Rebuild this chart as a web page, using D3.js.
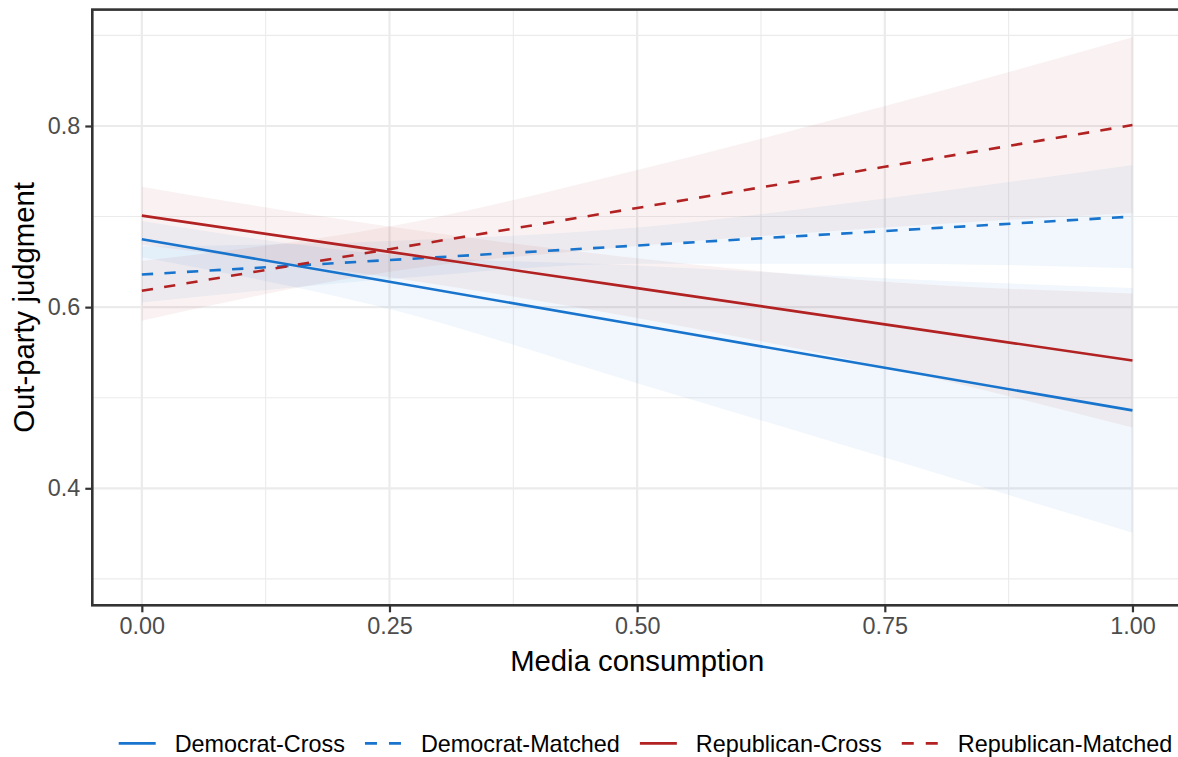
<!DOCTYPE html>
<html>
<head>
<meta charset="utf-8">
<script src="https://cdn.jsdelivr.net/npm/d3@7"></script>
<style>
  html, body { margin: 0; padding: 0; background: #ffffff; }
  svg { display: block; font-family: "Liberation Sans", Arial, Helvetica, sans-serif; }
</style>
</head>
<body>
<svg id="chart" width="1178" height="757"></svg>
<script>
// ---- data ----
const seriesNames = ["Democrat-Cross", "Democrat-Matched", "Republican-Cross", "Republican-Matched"];
const mediaX = [0, 0.25, 0.5, 0.75, 1];

const demCrossFit   = [0.675, 0.628, 0.5805, 0.533, 0.486];
const demCrossLow   = [0.655, 0.598, 0.516, 0.434, 0.351];
const demCrossHigh  = [0.695, 0.658, 0.646, 0.632, 0.621];

const demMatchFit   = [0.636, 0.652, 0.668, 0.684, 0.700];
const demMatchLow   = [0.605, 0.631, 0.648, 0.648, 0.643];
const demMatchHigh  = [0.667, 0.673, 0.688, 0.720, 0.757];

const repCrossFit   = [0.701, 0.661, 0.621, 0.581, 0.541];
const repCrossLow   = [0.669, 0.633, 0.588, 0.534, 0.467];
const repCrossHigh  = [0.733, 0.689, 0.654, 0.628, 0.615];

const repMatchFit   = [0.618, 0.664, 0.7095, 0.755, 0.801];
const repMatchLow   = [0.585, 0.639, 0.6675, 0.688, 0.704];
const repMatchHigh  = [0.651, 0.689, 0.7515, 0.822, 0.898];

const xTickValues = [0, 0.25, 0.5, 0.75, 1];
const xTickLabels = ["0.00", "0.25", "0.50", "0.75", "1.00"];
const xMinorTicks = [0.125, 0.375, 0.625, 0.875];
const yTickValues = [0.4, 0.6, 0.8];
const yTickLabels = ["0.4", "0.6", "0.8"];
const yMinorTicks = [0.3, 0.5, 0.7, 0.9];

const xTitle = "Media consumption";
const yTitle = "Out-party judgment";

// ---- styles ----
const colorMap = {
  "Democrat-Cross": "#1874CD", "Democrat-Matched": "#1874CD",
  "Republican-Cross": "#B22222", "Republican-Matched": "#B22222"
};
const dashMap = {
  "Democrat-Cross": null, "Democrat-Matched": "11.3,11.3",
  "Republican-Cross": null, "Republican-Matched": "11.3,11.3"
};

const series = [
  { name: seriesNames[0], fit: demCrossFit, low: demCrossLow, high: demCrossHigh },
  { name: seriesNames[1], fit: demMatchFit, low: demMatchLow, high: demMatchHigh },
  { name: seriesNames[2], fit: repCrossFit, low: repCrossLow, high: repCrossHigh },
  { name: seriesNames[3], fit: repMatchFit, low: repMatchLow, high: repMatchHigh }
];

// ---- layout ----
const panel = { left: 92.3, right: 1182, top: 9.6, bottom: 605.3 };
const svg = d3.select("#chart");

const x = d3.scaleLinear().domain([-0.05, 1.05]).range([panel.left, panel.right]);
const y = d3.scaleLinear().domain([0.2708, 0.9285]).range([panel.bottom, panel.top]);

const g = svg.append("g");

// grid
const grid = g.append("g");
grid.selectAll(".ymin").data(yMinorTicks).enter().append("line")
  .attr("x1", panel.left).attr("x2", panel.right)
  .attr("y1", d => y(d)).attr("y2", d => y(d))
  .attr("stroke", "#ebebeb").attr("stroke-width", 1.1);
grid.selectAll(".xmin").data(xMinorTicks).enter().append("line")
  .attr("y1", panel.top).attr("y2", panel.bottom)
  .attr("x1", d => x(d)).attr("x2", d => x(d))
  .attr("stroke", "#ebebeb").attr("stroke-width", 1.1);
grid.selectAll(".ymaj").data(yTickValues).enter().append("line")
  .attr("x1", panel.left).attr("x2", panel.right)
  .attr("y1", d => y(d)).attr("y2", d => y(d))
  .attr("stroke", "#ebebeb").attr("stroke-width", 2.2);
grid.selectAll(".xmaj").data(xTickValues).enter().append("line")
  .attr("y1", panel.top).attr("y2", panel.bottom)
  .attr("x1", d => x(d)).attr("x2", d => x(d))
  .attr("stroke", "#ebebeb").attr("stroke-width", 2.2);

// ribbons
const area = d3.area()
  .x((d, i) => x(mediaX[i]))
  .y0(d => y(d[0]))
  .y1(d => y(d[1]))
  .curve(d3.curveMonotoneX);
series.forEach(s => {
  const pts = mediaX.map((_, i) => [s.low[i], s.high[i]]);
  g.append("path").datum(pts)
    .attr("d", area)
    .attr("fill", colorMap[s.name])
    .attr("fill-opacity", 0.06)
    .attr("stroke", "none");
});

// lines
const line = d3.line()
  .x((d, i) => x(mediaX[i]))
  .y(d => y(d));
series.forEach(s => {
  g.append("path").datum(s.fit)
    .attr("d", line)
    .attr("fill", "none")
    .attr("stroke", colorMap[s.name])
    .attr("stroke-width", 2.6)
    .attr("stroke-dasharray", dashMap[s.name]);
});

// panel border
g.append("rect")
  .attr("x", panel.left).attr("y", panel.top)
  .attr("width", panel.right - panel.left).attr("height", panel.bottom - panel.top)
  .attr("fill", "none").attr("stroke", "#333333").attr("stroke-width", 2.6);

// axes
const xAxis = d3.axisBottom(x).tickValues(xTickValues)
  .tickFormat((d, i) => xTickLabels[i]).tickSize(7).tickPadding(5);
const gx = svg.append("g").attr("transform", `translate(0,${panel.bottom})`).call(xAxis);
gx.select(".domain").remove();
gx.selectAll(".tick line").attr("stroke", "#333333").attr("stroke-width", 2.2);
gx.selectAll(".tick text").attr("fill", "#4d4d4d").attr("font-size", "23.4px")
  .attr("font-family", "Liberation Sans, Arial, sans-serif");

const yAxis = d3.axisLeft(y).tickValues(yTickValues)
  .tickFormat((d, i) => yTickLabels[i]).tickSize(7).tickPadding(5);
const gy = svg.append("g").attr("transform", `translate(${panel.left},0)`).call(yAxis);
gy.select(".domain").remove();
gy.selectAll(".tick line").attr("stroke", "#333333").attr("stroke-width", 2.2);
gy.selectAll(".tick text").attr("fill", "#4d4d4d").attr("font-size", "23.4px")
  .attr("font-family", "Liberation Sans, Arial, sans-serif");

// titles
svg.append("text")
  .attr("x", (panel.left + panel.right) / 2).attr("y", 670.5)
  .attr("text-anchor", "middle").attr("font-size", "29.3px").attr("fill", "#000")
  .text(xTitle);
svg.append("text")
  .attr("transform", `translate(33.5,${(panel.top + panel.bottom) / 2}) rotate(-90)`)
  .attr("text-anchor", "middle").attr("font-size", "29.3px").attr("fill", "#000")
  .text(yTitle);

// legend
const legendY = 743.4;
const keyW = 37, keyGap = 19, itemGap = 20;
const legend = svg.append("g");
const items = [];
series.forEach(s => {
  const it = legend.append("g");
  it.append("line")
    .attr("x1", 0).attr("x2", keyW).attr("y1", 0).attr("y2", 0)
    .attr("stroke", colorMap[s.name]).attr("stroke-width", 2.6)
    .attr("stroke-dasharray", dashMap[s.name] ? "12,12" : null);
  const t = it.append("text")
    .attr("x", keyW + keyGap).attr("y", 8.4)
    .attr("font-size", "23.4px").attr("fill", "#000")
    .text(s.name);
  const w = keyW + keyGap + t.node().getComputedTextLength();
  items.push({ node: it, w: w });
});
const totalW = d3.sum(items, d => d.w) + itemGap * (items.length - 1);
let start = 645.5 - totalW / 2;
items.forEach(d => {
  d.node.attr("transform", `translate(${start},${legendY})`);
  start += d.w + itemGap;
});
</script>
</body>
</html>
